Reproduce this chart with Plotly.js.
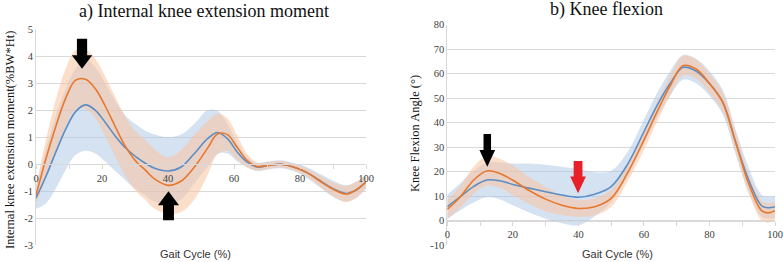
<!DOCTYPE html>
<html>
<head>
<meta charset="utf-8">
<script src="https://cdn.plot.ly/plotly-3.0.1.min.js"></script>
<style>
html,body{margin:0;padding:0;background:#fff;}
#chart{width:783px;height:262px;}
</style>
</head>
<body>
<div id="chart"></div>
<script>
// ---- Data: a) Internal knee extension moment (%BW*Ht) ----
const gaitA = [0,3,6,9,12,15,18,21,24,27,30,33,36,40,44,48,52,55,58,61,64,67,70,74,78,82,86,90,94,97,100];
const blueMeanA = [-1.25,-0.45,0.45,1.3,1.95,2.2,2.0,1.55,1.05,0.62,0.3,0.05,-0.15,-0.25,-0.1,0.4,0.95,1.18,0.95,0.45,0.08,-0.1,-0.05,0.0,-0.1,-0.3,-0.6,-0.9,-1.08,-0.95,-0.65];
const blueSdA = [0.4,1.0,1.35,1.5,1.6,1.7,1.6,1.45,1.3,1.2,1.2,1.2,1.25,1.25,1.2,1.1,1.05,0.8,0.55,0.35,0.2,0.15,0.15,0.15,0.15,0.2,0.25,0.3,0.3,0.3,0.25];
const orangeMeanA = [-1.15,0.2,1.4,2.45,3.12,3.15,2.8,2.15,1.4,0.68,0.15,-0.2,-0.55,-0.78,-0.62,-0.1,0.6,1.12,1.1,0.62,0.14,-0.08,-0.05,0.0,-0.1,-0.3,-0.62,-0.92,-1.1,-0.95,-0.65];
const orangeSdA = [0.35,0.7,1.0,1.1,1.1,1.1,1.1,1.1,1.1,1.1,1.1,1.1,1.1,1.05,1.15,1.2,1.0,0.75,0.6,0.45,0.25,0.15,0.12,0.12,0.12,0.15,0.2,0.25,0.3,0.3,0.25];

// ---- Data: b) Knee flexion angle (deg) ----
const gaitB = [0,4,8,12,16,20,25,30,35,40,45,50,55,60,64,68,72,76,80,84,88,92,96,98,100];
const blueMeanB = [5.7,9.8,13.9,16.6,16.3,14.8,13.3,11.8,10.5,9.6,10.8,13.9,23,36.3,47,56,62.6,61,56,48.5,32,16.5,6,5.3,5.7];
const blueSdB = [5,5.5,6.5,7,7.5,8.5,10,11,11.5,11.5,9,6.5,5,5,5,5,5,5,5,5,5,5,4.5,4.5,4.5];
const orangeMeanB = [4.6,9.8,16.5,20.3,19.3,16.5,12.3,8.8,6.3,5.0,5.7,9.1,19.5,32.9,44.4,55,63.3,61.8,56,48.5,32,15,4,3.2,4.1];
const orangeSdB = [4,4.5,5.5,6,6,6,5.5,5,4,3.5,3.5,3.5,3.5,4,4,4,4,4,4,4,4,4,4,4,3.5];

// ---- Axis ticks ----
const xTicks = [0,20,40,60,80,100];
const xTickText = ['0','20','40','60','80','100'];
const yTicksA = [-3,-2,-1,0,1,2,3,4,5];
const yTickTextA = ['-3','-2','-1','0','1','2','3','4','5'];
const yTicksB = [-10,0,10,20,30,40,50,60,70,80];
const yTickTextB = ['-10','0','10','20','30','40','50','60','70','80'];

const titleA = 'a) Internal knee extension moment';
const titleB = 'b) Knee flexion';
const yTitleA = 'Internal knee extension moment(%BW*Ht)';
const yTitleB = 'Knee Flexion Angle (°)';
const xTitle = 'Gait Cycle (%)';

// ---- Styles ----
const BLUE = '#5b8ec6', ORANGE = '#e8772e';
const BLUE_BAND = 'rgba(172,197,228,0.5)', ORANGE_BAND = 'rgba(249,196,160,0.55)';
const W = 783, H = 262;
const SERIF = 'Liberation Serif';
const SANS = 'Liberation Sans';

function add(a, b, s){ return a.map((v,i)=>v + s*b[i]); }
function band(x, m, sd, color, xa, ya){
  return [
    {x:x, y:add(m,sd,-1), xaxis:xa, yaxis:ya, mode:'lines', line:{width:0, shape:'spline'}, hoverinfo:'skip', showlegend:false},
    {x:x, y:add(m,sd,1), xaxis:xa, yaxis:ya, mode:'lines', line:{width:0, shape:'spline'}, fill:'tonexty', fillcolor:color, hoverinfo:'skip', showlegend:false}
  ];
}
function meanLine(x, m, color, xa, ya){
  return {x:x, y:m, xaxis:xa, yaxis:ya, mode:'lines', line:{color:color, width:1.6, shape:'spline'}, showlegend:false};
}

const traces = [].concat(
  band(gaitA, blueMeanA, blueSdA, BLUE_BAND, 'x', 'y'),
  band(gaitA, orangeMeanA, orangeSdA, ORANGE_BAND, 'x', 'y'),
  [meanLine(gaitA, blueMeanA, BLUE, 'x', 'y'), meanLine(gaitA, orangeMeanA, ORANGE, 'x', 'y')],
  band(gaitB, blueMeanB, blueSdB, BLUE_BAND, 'x2', 'y2'),
  band(gaitB, orangeMeanB, orangeSdB, ORANGE_BAND, 'x2', 'y2'),
  [meanLine(gaitB, blueMeanB, BLUE, 'x2', 'y2'), meanLine(gaitB, orangeMeanB, ORANGE, 'x2', 'y2')]
);

const fx = p => p / W;
const fy = p => 1 - p / H;

const domXA = [fx(36), fx(366)], domYA = [fy(245.3), fy(29.3)];
const domXB = [fx(447.3), fx(775)], domYB = [fy(245.2), fy(24.7)];
const posXA = domYA[0] + (3/8) * (domYA[1] - domYA[0]);
const posXB = domYB[0] + (10/90) * (domYB[1] - domYB[0]);

const tickFont = {family:SERIF, size:10.5, color:'#404040'};
const GRID = '#d9d9d9';

function xAxis(dom, pos){
  return {domain:dom, range:[0,100], anchor:'free', position:pos,
    tickvals:xTicks, ticktext:xTickText, tickfont:tickFont, showgrid:false, zeroline:false,
    showline:true, linecolor:GRID, linewidth:1, ticks:'outside', ticklen:4, tickcolor:GRID,
    minor:{dtick:10, ticks:'outside', ticklen:4, tickcolor:GRID, showgrid:false},
    fixedrange:true, automargin:false};
}
function yAxis(dom, range, vals, text, xname){
  return {domain:dom, range:range, anchor:xname, tickvals:vals, ticktext:text, tickfont:tickFont,
    showgrid:true, gridcolor:GRID, gridwidth:1, zeroline:false, showline:true, linecolor:GRID,
    ticks:'', fixedrange:true, automargin:false};
}

function arrow(xc, shaftW, headW, yTop, yBase, yTip){
  const s = shaftW/2, h = headW/2;
  return `M ${xc-s},${yTop} L ${xc+s},${yTop} L ${xc+s},${yBase} L ${xc+h},${yBase} L ${xc},${yTip} L ${xc-h},${yBase} L ${xc-s},${yBase} Z`;
}

const layout = {
  width:W, height:H, margin:{l:0,r:0,t:0,b:0}, paper_bgcolor:'#fff', plot_bgcolor:'rgba(0,0,0,0)',
  showlegend:false,
  xaxis: xAxis(domXA, posXA),
  yaxis: yAxis(domYA, [-3,5], yTicksA, yTickTextA, 'x'),
  xaxis2: xAxis(domXB, posXB),
  yaxis2: yAxis(domYB, [-10,80], yTicksB, yTickTextB, 'x2'),
  shapes:[
    {type:'path', xref:'x', yref:'y', path:arrow(13.95, 3.1, 6.2, 4.65, 4.04, 3.54), fillcolor:'#000', line:{width:0}},
    {type:'path', xref:'x', yref:'y', path:arrow(40.15, 3.3, 6.4, -2.07, -1.52, -1.0), fillcolor:'#000', line:{width:0}},
    {type:'path', xref:'x2', yref:'y2', path:arrow(12.2, 2.3, 4.8, 35.4, 28.9, 22.0), fillcolor:'#000', line:{width:0}},
    {type:'path', xref:'x2', yref:'y2', path:arrow(39.9, 2.7, 4.8, 24.4, 18.0, 11.2), fillcolor:'#e8202a', line:{width:0}}
  ],
  annotations:[
    {text:titleA, xref:'paper', yref:'paper', x:fx(204), y:fy(11), xanchor:'center', yanchor:'middle', showarrow:false,
     font:{family:SERIF, size:18, color:'#111'}},
    {text:titleB, xref:'paper', yref:'paper', x:fx(606), y:fy(10), xanchor:'center', yanchor:'middle', showarrow:false,
     font:{family:SERIF, size:18, color:'#111'}},
    {text:yTitleA, xref:'paper', yref:'paper', x:fx(10), y:fy(140), xanchor:'center', yanchor:'middle', textangle:-90, showarrow:false,
     font:{family:SERIF, size:12.5, color:'#111'}},
    {text:yTitleB, xref:'paper', yref:'paper', x:fx(415), y:fy(133), xanchor:'center', yanchor:'middle', textangle:-90, showarrow:false,
     font:{family:SERIF, size:12.5, color:'#111'}},
    {text:xTitle, xref:'paper', yref:'paper', x:fx(195), y:fy(254), xanchor:'center', yanchor:'middle', showarrow:false,
     font:{family:SANS, size:11, color:'#333'}},
    {text:xTitle, xref:'paper', yref:'paper', x:fx(617), y:fy(254), xanchor:'center', yanchor:'middle', showarrow:false,
     font:{family:SANS, size:11, color:'#333'}}
  ]
};

Plotly.newPlot('chart', traces, layout, {staticPlot:true, displayModeBar:false});
</script>
</body>
</html>
